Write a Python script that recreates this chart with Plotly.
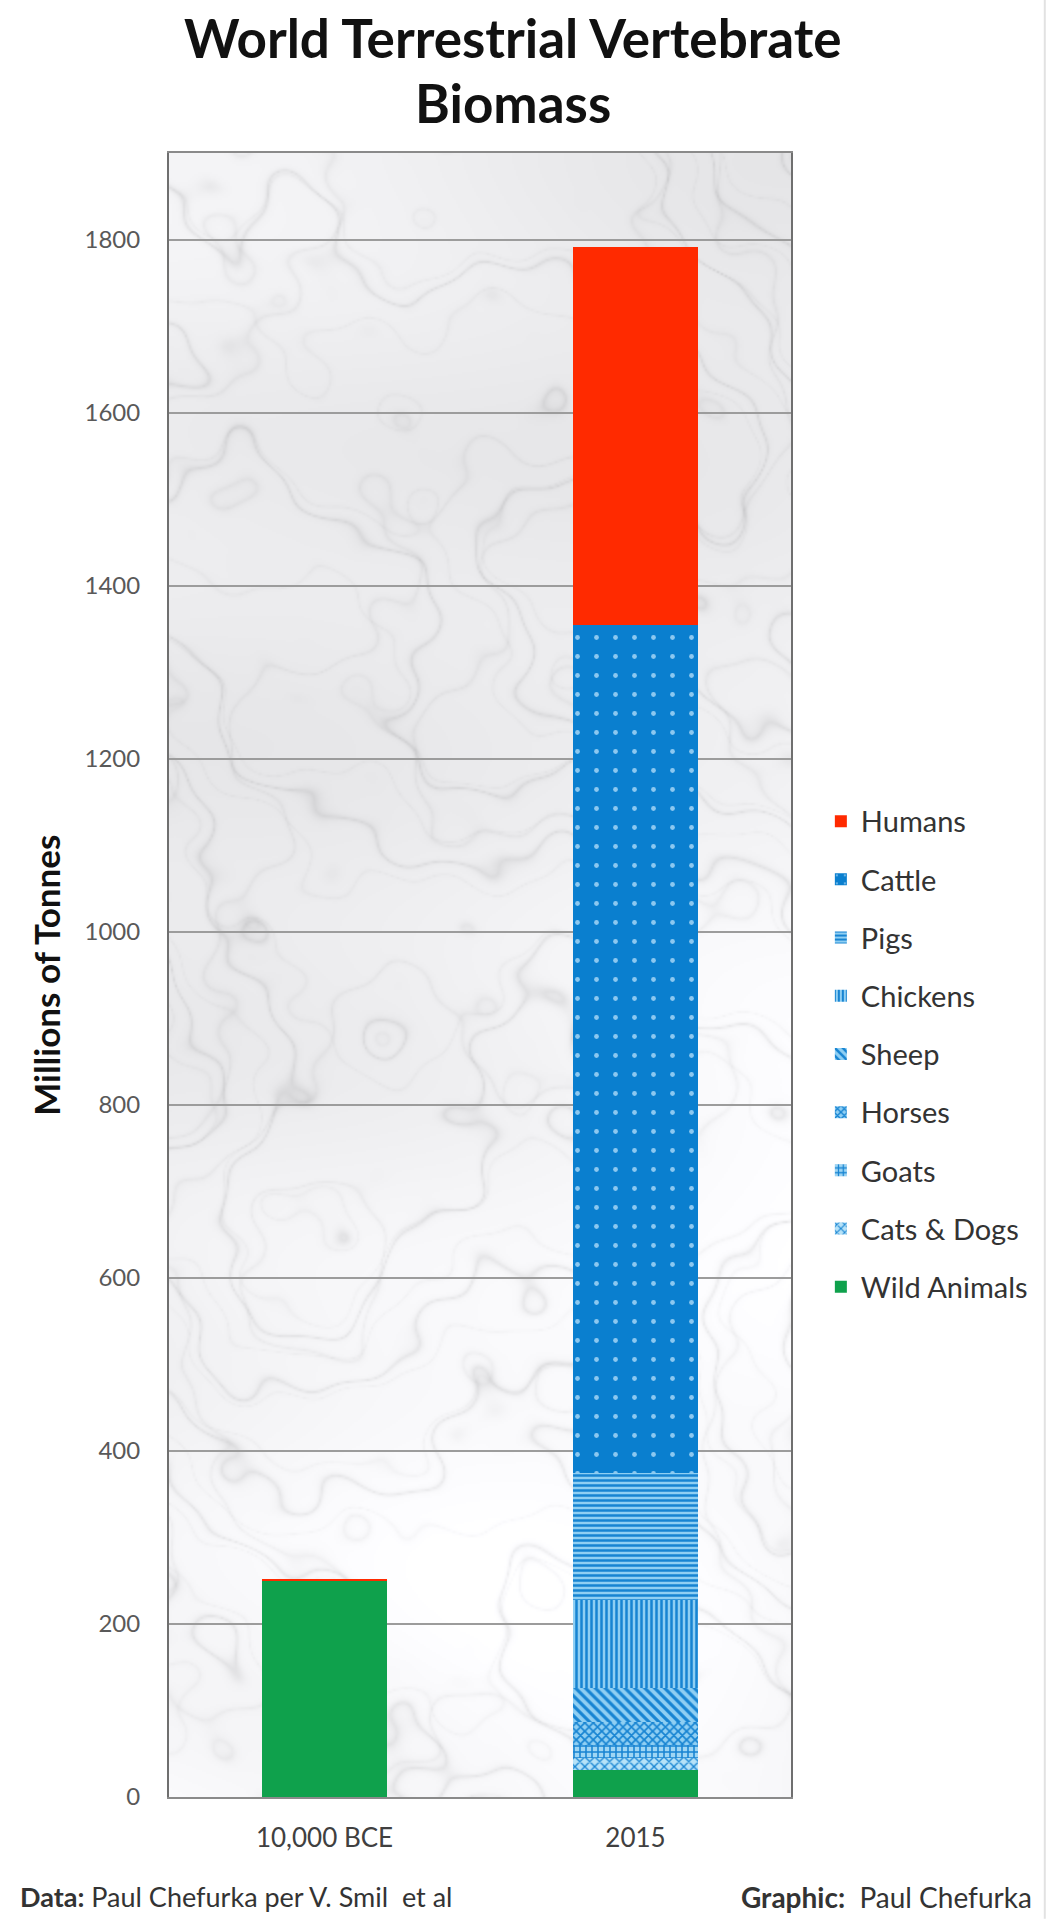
import base64
import struct
import zlib

import numpy as np
import plotly.graph_objects as go

# ---- data (millions of tonnes) ----
categories = ["10,000 BCE", "2015"]
series_names = ["Wild Animals", "Cats & Dogs", "Goats", "Horses", "Sheep",
                "Chickens", "Pigs", "Cattle", "Humans"]
wild_animals = [250, 31]
cats_dogs = [0, 14]
goats = [0, 15]
horses = [0, 27]
sheep = [0, 39]
chickens = [0, 102]
pigs = [0, 147]
cattle = [0, 980]
humans = [2, 436]
y_ticks = [0, 200, 400, 600, 800, 1000, 1200, 1400, 1600, 1800]

series_values = [wild_animals, cats_dogs, goats, horses, sheep,
                 chickens, pigs, cattle, humans]

# ---- styling per series ----
LIGHT = "#73c0ec"
DARK = "#1784d2"
styles = {
    "Wild Animals": dict(color="#0fa14c"),
    "Cats & Dogs": dict(color="#a9dcf6",
                        pattern=dict(shape="x", bgcolor="#b6e2f8", fgcolor=DARK,
                                     size=7, solidity=0.35, fillmode="replace")),
    "Goats": dict(color=LIGHT,
                  pattern=dict(shape="+", bgcolor="#9fd6f4", fgcolor=DARK,
                               size=6, solidity=0.45, fillmode="replace")),
    "Horses": dict(color=LIGHT,
                   pattern=dict(shape="x", bgcolor="#8fcff3", fgcolor=DARK,
                                size=6, solidity=0.5, fillmode="replace")),
    "Sheep": dict(color=LIGHT,
                  pattern=dict(shape="\\", bgcolor="#8fcff3", fgcolor=DARK,
                               size=7, solidity=0.45, fillmode="replace")),
    "Chickens": dict(color=LIGHT,
                     pattern=dict(shape="|", bgcolor="#8fcff3", fgcolor=DARK,
                                  size=5, solidity=0.5, fillmode="replace")),
    "Pigs": dict(color=LIGHT,
                 pattern=dict(shape="-", bgcolor="#8fcff3", fgcolor=DARK,
                              size=5, solidity=0.5, fillmode="replace")),
    "Cattle": dict(color="#0a7fcf",
                   pattern=dict(shape=".", bgcolor="#0a7fcf", fgcolor="#8cc8f0",
                                size=19, solidity=0.05, fillmode="replace")),
    "Humans": dict(color="#ff2a00"),
}


# ---- marble texture for the plot background ----
def marble_png(w, h):
    yy, xx = np.mgrid[0:h, 0:w].astype(float)
    turb = np.zeros_like(xx)
    for i in range(16):
        ang = i * 2.39996
        freq = 0.02 * (1.6 ** (i % 6))
        amp = 0.9 / (1.0 + 1.4 * (i % 6))
        turb += amp * np.sin(freq * (xx * np.cos(ang) + yy * np.sin(ang)) + i * 1.7)
    cloud = np.zeros_like(xx)
    for i in range(8):
        ang = 0.7 + i * 2.39996
        freq = 0.008 * (1.7 ** (i % 4))
        cloud += np.sin(freq * (xx * np.cos(ang) + yy * np.sin(ang)) + i * 0.9) / (1 + i % 4)
    v1 = np.sin(0.035 * (xx * 0.62 - yy * 0.78) + 1.8 * turb)
    v2 = np.sin(0.028 * (xx * 0.93 + yy * 0.35) + 1.5 * turb + 1.3)
    v3 = np.sin(0.06 * (xx * 0.45 - yy * 0.9) + 2.2 * turb + 0.4)
    val = (243
           - 20 * np.exp(-np.abs(v1) * 12)
           - 11 * np.exp(-np.abs(v2) * 14)
           - 8 * np.exp(-np.abs(v3) * 16)
           - 5 * cloud)
    val = np.clip(val, 0, 255).astype(np.uint8)
    rgb = np.stack([val, val, np.clip(val.astype(int) + 2, 0, 255).astype(np.uint8)], axis=-1)
    raw = b"".join(b"\x00" + rgb[r].tobytes() for r in range(h))

    def chunk(tag, data):
        body = tag + data
        return (struct.pack(">I", len(data)) + body
                + struct.pack(">I", zlib.crc32(body) & 0xFFFFFFFF))

    png = (b"\x89PNG\r\n\x1a\n"
           + chunk(b"IHDR", struct.pack(">IIBBBBB", w, h, 8, 2, 0, 0, 0))
           + chunk(b"IDAT", zlib.compress(raw, 9))
           + chunk(b"IEND", b""))
    return "data:image/png;base64," + base64.b64encode(png).decode()


FONT = "Lato"
NB = "\u00a0"

fig = go.Figure()
n = len(series_names)
for idx, (name, vals) in enumerate(zip(series_names, series_values)):
    fig.add_trace(go.Bar(
        x=categories, y=vals, name=name, legendgroup=name,
        legendrank=n - idx,
        marker=dict(line=dict(width=0), **styles[name]),
    ))

fig.update_layout(
    width=1052, height=1919, autosize=False,
    margin=dict(l=169, r=261, t=153, b=122),
    barmode="stack", bargap=0.6,
    paper_bgcolor="white", plot_bgcolor="rgba(0,0,0,0)",
    font=dict(family=FONT, color="#404040"),
    showlegend=True,
    legend=dict(
        traceorder="grouped", tracegroupgap=17.5,
        x=1.048, xanchor="left", y=0.609, yanchor="top",
        font=dict(family=FONT, size=29, color="#333333"),
        bgcolor="rgba(0,0,0,0)", itemclick=False,
    ),
    images=[dict(
        source=marble_png(311, 822), xref="paper", yref="paper",
        x=0, y=1, sizex=1, sizey=1, sizing="stretch", layer="below",
    )],
    shapes=[dict(type="line", xref="paper", yref="paper",
                 x0=1.408, x1=1.408, y0=-0.074, y1=1.093,
                 line=dict(color="#e2e2e2", width=2))],
)

fig.update_yaxes(
    range=[0, 1900], tickvals=y_ticks, ticks="", ticklabelstandoff=22,
    tickfont=dict(family=FONT, size=24, color="#595959"),
    showgrid=True, gridcolor="#9c9c9c", gridwidth=1.5,
    showline=True, linecolor="#6f6f6f", linewidth=2, mirror=True,
    zeroline=False,
)
fig.update_xaxes(
    ticks="", ticklabelstandoff=17,
    tickfont=dict(family=FONT, size=26, color="#404040"),
    showline=True, linecolor="#8a8a8a", linewidth=2, mirror=True,
)

annotations = [
    dict(text="<b>World Terrestrial Vertebrate</b>", x=0.553, y=1.0700,
         font=dict(size=53, color="#111111")),
    dict(text="<b>Biomass</b>", x=0.553, y=1.0310,
         font=dict(size=53, color="#111111")),
    dict(text="<b>Millions of Tonnes</b>", x=-0.198, y=0.5, textangle=-90,
         font=dict(size=35, color="#111111")),
    dict(text=f"<b>Data:</b> Paul Chefurka per V. Smil{NB}{NB}et al", x=-0.2428,
         y=-0.0608, xanchor="left", font=dict(size=27, color="#333333")),
    dict(text=f"<b>Graphic:</b>{NB}{NB}Paul Chefurka", x=1.3907, y=-0.0608,
         xanchor="right", font=dict(size=28, color="#333333")),
]
for a in annotations:
    a.setdefault("xanchor", "center")
    fig.add_annotation(xref="paper", yref="paper", yanchor="middle",
                       showarrow=False, **a)
    fig.layout.annotations[-1].font.family = FONT

fig.write_html("out.html")
